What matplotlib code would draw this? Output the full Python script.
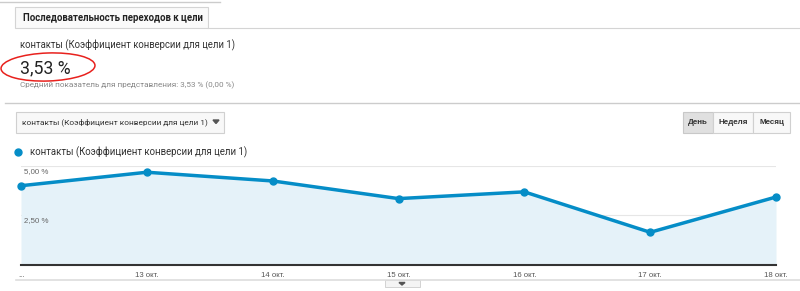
import matplotlib.pyplot as plt
from matplotlib.patches import Rectangle, Ellipse, Polygon

# chart data
dates = ['12 окт.', '13 окт.', '14 окт.', '15 окт.', '16 окт.', '17 окт.', '18 окт.']
tick_labels = ['...', '13 окт.', '14 окт.', '15 окт.', '16 окт.', '17 окт.', '18 окт.']
conversion = [3.99, 4.67, 4.23, 3.34, 3.68, 1.64, 3.42]
y_ticks = [2.5, 5.0]
y_tick_labels = ['2,50 %', '5,00 %']

metric = 'контакты (Коэффициент конверсии для цели 1)'
blue = '#058dc7'
W, H = 800, 291

plt.rcParams['font.family'] = ['Roboto', 'DejaVu Sans']
fig = plt.figure(figsize=(W / 100, H / 100), dpi=100)

# page overlay in pixel coordinates
ui = fig.add_axes([0, 0, 1, 1])
ui.set_xlim(0, W)
ui.set_ylim(H, 0)
ui.axis('off')

# tab header
ui.plot([0, 220], [2, 2], color='#cccccc', lw=1)
ui.add_patch(Rectangle((15, 7), 193, 21, fc='#fafafa', ec='#d4d4d4', lw=0.8))
ui.plot([208, 800], [28, 28], color='#d4d4d4', lw=0.8)
ui.text(23, 18, 'Последовательность переходов к цели', fontsize=6.9,
        fontweight='bold', color='#222222', va='center')

# scorecard
ui.text(20, 45, metric, fontsize=6.85, color='#333333', va='center')
ui.text(20, 68, '3,53 %', fontsize=12.7, color='#222222', va='center')
ui.text(20, 85, 'Средний показатель для представления: 3,53 % (0,00 %)',
        fontsize=5.85, color='#888888', va='center')
ui.add_patch(Ellipse((48, 67), 94, 28, angle=-2, fill=False, ec='#e8211d', lw=1.1))

ui.plot([5, 800], [103, 103], color='#cccccc', lw=1)

# metric dropdown
ui.add_patch(Rectangle((16, 112), 208, 21, fc='#f8f8f8', ec='#d0d0d0', lw=0.8))
ui.text(22, 122, metric, fontsize=5.95, color='#333333', va='center')
ui.add_patch(Polygon([[213, 120], [219, 120], [216, 123.5]], color='#555555'))

# period buttons
ui.add_patch(Rectangle((683, 112), 30, 21, fc='#e0e0e0', ec='#c8c8c8', lw=0.8))
ui.add_patch(Rectangle((713, 112), 40, 21, fc='#f8f8f8', ec='#d0d0d0', lw=0.8))
ui.add_patch(Rectangle((753, 112), 37, 21, fc='#f8f8f8', ec='#d0d0d0', lw=0.8))
for xc, lab in [(698, 'День'), (733, 'Неделя'), (771.5, 'Месяц')]:
    ui.text(xc, 122.5, lab, fontsize=5.8, fontweight='bold', color='#333333',
            ha='center', va='center', family=['Liberation Sans', 'DejaVu Sans'])

# legend
ui.plot(18, 152, 'o', color=blue, ms=5)
ui.text(30, 152, metric, fontsize=6.95, color='#333333', va='center')

# bottom strip
ui.plot([16, 800], [280, 280], color='#dddddd', lw=1.2)
ui.add_patch(Rectangle((385, 280), 35, 7, fc='#f4f4f4', ec='#cccccc', lw=0.6))
ui.add_patch(Polygon([[399, 282.5], [405, 282.5], [402, 285]], color='#555555'))

# chart
left, right, bottom, top = 21, 776, 264.8, 165.7
ax = fig.add_axes([left / W, (H - bottom) / H, (right - left) / W, (bottom - top) / H])
x = range(len(dates))
ax.fill_between(x, conversion, 0, color='#e5f2f9', lw=0)
ax.plot(x, conversion, color=blue, lw=2.5, marker='o', ms=5, clip_on=False, zorder=3)
ax.set_xlim(0, len(dates) - 1)
ax.set_ylim(0, 5)
ax.set_yticks(y_ticks)
ax.set_yticklabels([])
ax.grid(axis='y', color='#e6e6e6', lw=0.8)
ax.set_axisbelow(True)
for yv, lab in zip(y_ticks, y_tick_labels):
    ax.text(0.02, yv - 0.1, lab, fontsize=5.7, color='#666666', va='top',
            family=['Liberation Sans', 'DejaVu Sans'])
ax.set_xticks(list(x))
ax.set_xticklabels(tick_labels, fontsize=5.6, color='#555555',
                   family=['Liberation Sans', 'DejaVu Sans'])
ax.tick_params(axis='both', length=0, pad=5)
for s in ['top', 'right', 'left']:
    ax.spines[s].set_visible(False)
ax.spines['bottom'].set_color('#333333')
ax.spines['bottom'].set_linewidth(1.5)
ax.patch.set_alpha(0)

fig.savefig('out.png', dpi=100)
